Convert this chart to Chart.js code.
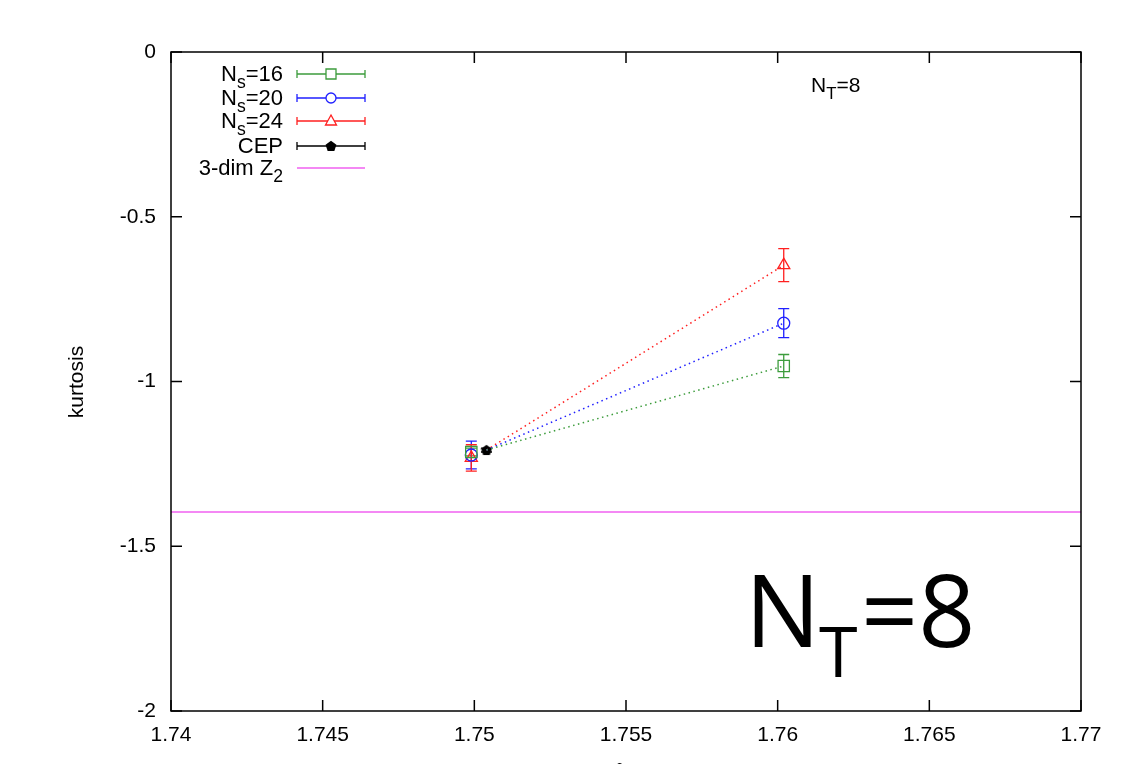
<!DOCTYPE html>
<html>
<head>
<meta charset="utf-8">
<script src="https://cdn.jsdelivr.net/npm/chart.js@4"></script>
<style>
  html, body { margin: 0; padding: 0; background: #fff; }
  #wrap { width: 1121px; height: 764px; }
</style>
</head>
<body>
<div id="wrap"><canvas id="mainCanvas" width="1121" height="764"></canvas></div>
<script>
// beta values of the two lattice points, and the CEP estimate
const betaPoints = [1.7499, 1.7602];
const ns16Kurt = [-1.214, -0.953];
const ns16Err = [0.012, 0.035];
const ns20Kurt = [-1.223, -0.823];
const ns20Err = [0.042, 0.044];
const ns24Kurt = [-1.232, -0.647];
const ns24Err = [0.040, 0.050];

const cepBeta = [1.7504];
const cepKurt = [-1.208];
const cepErr = [0.006];

// dotted fit lines from the CEP out to the 1.76 points
const fitBeta = [1.7504, 1.7602];
const fit16 = [-1.208, -0.953];
const fit20 = [-1.208, -0.823];
const fit24 = [-1.208, -0.647];

const z2Beta = [1.74, 1.77];
const z2Kurt = -1.396;

const xTicks = [1.74, 1.745, 1.75, 1.755, 1.76, 1.765, 1.77];
const yTicks = [0, -0.5, -1, -1.5, -2];

const GREEN = "#3c9c3c";
const BLUE = "#2020ff";
const RED = "#ff2020";
const MAGENTA = "#f060f0";
const FONT = "'Liberation Sans', Arial, sans-serif";

function toPoints(xs, ys) {
  return xs.map((x, i) => ({x, y: ys[i]}));
}

// gnuplot's filled pentagon for the CEP
function pentagon(size, color) {
  const c = document.createElement("canvas");
  c.width = size;
  c.height = size;
  const g = c.getContext("2d");
  const r = size / 2;
  g.beginPath();
  for (let i = 0; i < 5; i++) {
    const a = -Math.PI / 2 + i * 2 * Math.PI / 5;
    const px = r + r * 0.95 * Math.cos(a);
    const py = r + 0.5 + r * 0.95 * Math.sin(a);
    if (i == 0) g.moveTo(px, py); else g.lineTo(px, py);
  }
  g.closePath();
  g.fillStyle = color;
  g.fill();
  return c;
}
const pent = pentagon(12, "#000");

const datasets = [
  {label: "fit16", data: toPoints(fitBeta, fit16), showLine: true, borderColor: GREEN,
   borderWidth: 1.5, borderDash: [1.5, 3.5], pointRadius: 0},
  {label: "fit20", data: toPoints(fitBeta, fit20), showLine: true, borderColor: BLUE,
   borderWidth: 1.5, borderDash: [1.5, 3.5], pointRadius: 0},
  {label: "fit24", data: toPoints(fitBeta, fit24), showLine: true, borderColor: RED,
   borderWidth: 1.5, borderDash: [1.5, 3.5], pointRadius: 0},
  {label: "3-dim Z2", data: z2Beta.map(x => ({x, y: z2Kurt})), showLine: true,
   borderColor: MAGENTA, borderWidth: 1.5, pointRadius: 0},
  {label: "Ns=16", data: toPoints(betaPoints, ns16Kurt), yErr: ns16Err, showLine: false,
   pointStyle: "rect", pointRadius: 8, borderColor: GREEN, borderWidth: 1.3,
   backgroundColor: "rgba(0,0,0,0)"},
  {label: "Ns=20", data: toPoints(betaPoints, ns20Kurt), yErr: ns20Err, showLine: false,
   pointStyle: "circle", pointRadius: 6, borderColor: BLUE, borderWidth: 1.3,
   backgroundColor: "rgba(0,0,0,0)"},
  {label: "Ns=24", data: toPoints(betaPoints, ns24Kurt), yErr: ns24Err, showLine: false,
   pointStyle: "triangle", pointRadius: 7, borderColor: RED, borderWidth: 1.3,
   backgroundColor: "rgba(0,0,0,0)"},
  {label: "CEP", data: toPoints(cepBeta, cepKurt), yErr: cepErr, showLine: false,
   pointStyle: pent, pointRadius: 6, borderColor: "#000", backgroundColor: "#000"},
];

/**
 * Vertical error bars with caps, drawn under the markers
 */
const errorBars = {
  id: "errorBars",
  beforeDatasetsDraw(chart) {
    const {ctx, scales: {x, y}} = chart;
    ctx.save();
    chart.data.datasets.forEach(ds => {
      if (!ds.yErr) return;
      ctx.strokeStyle = ds.borderColor;
      ctx.lineWidth = 1.3;
      ds.data.forEach((p, i) => {
        const px = x.getPixelForValue(p.x);
        const top = y.getPixelForValue(p.y + ds.yErr[i]);
        const bot = y.getPixelForValue(p.y - ds.yErr[i]);
        ctx.beginPath();
        ctx.moveTo(px, top); ctx.lineTo(px, bot);
        ctx.moveTo(px - 5.5, top); ctx.lineTo(px + 5.5, top);
        ctx.moveTo(px - 5.5, bot); ctx.lineTo(px + 5.5, bot);
        ctx.stroke();
      });
    });
    ctx.restore();
  }
};

/**
 * Text with a subscript, e.g. N_s=16, right or left anchored
 */
function subText(ctx, x, y, parts, size, align) {
  const fonts = parts.map(([t, sub]) => `${sub ? size * 0.8 : size}px ${FONT}`);
  const widths = parts.map(([t], i) => { ctx.font = fonts[i]; return ctx.measureText(t).width; });
  let cx = align == "right" ? x - widths.reduce((a, b) => a + b, 0) : x;
  ctx.textAlign = "left";
  ctx.textBaseline = "alphabetic";
  parts.forEach(([t, sub], i) => {
    ctx.font = fonts[i];
    ctx.fillText(t, cx, y + (sub ? size * 0.32 : 0));
    cx += widths[i];
  });
}

/**
 * Frame, inward mirrored ticks, gnuplot-like key and labels
 */
const decorations = {
  id: "decorations",
  afterDraw(chart) {
    const {ctx, chartArea: a, scales: {x, y}} = chart;
    ctx.save();
    ctx.strokeStyle = "#000";
    ctx.lineWidth = 1.5;
    ctx.strokeRect(a.left, a.top, a.right - a.left, a.bottom - a.top);

    ctx.beginPath();
    xTicks.forEach(v => {
      const px = x.getPixelForValue(v);
      ctx.moveTo(px, a.bottom); ctx.lineTo(px, a.bottom - 11);
      ctx.moveTo(px, a.top); ctx.lineTo(px, a.top + 11);
    });
    yTicks.forEach(v => {
      const py = y.getPixelForValue(v);
      ctx.moveTo(a.left, py); ctx.lineTo(a.left + 11, py);
      ctx.moveTo(a.right, py); ctx.lineTo(a.right - 11, py);
    });
    ctx.stroke();

    // key
    ctx.fillStyle = "#000";
    const rows = [
      {parts: [["N"], ["s", true], ["=16"]], color: GREEN, mark: "rect", y: 74},
      {parts: [["N"], ["s", true], ["=20"]], color: BLUE, mark: "circle", y: 98},
      {parts: [["N"], ["s", true], ["=24"]], color: RED, mark: "triangle", y: 121},
      {parts: [["CEP"]], color: "#000", mark: "pent", y: 146},
      {parts: [["3-dim Z"], ["2", true]], color: MAGENTA, mark: "none", y: 168},
    ];
    rows.forEach(r => {
      ctx.fillStyle = "#000";
      subText(ctx, 283, r.y + 7, r.parts, 22, "right");
      ctx.strokeStyle = r.color;
      ctx.lineWidth = 1.3;
      ctx.beginPath();
      ctx.moveTo(297, r.y); ctx.lineTo(365, r.y);
      if (r.mark != "none") {
        ctx.moveTo(297, r.y - 4); ctx.lineTo(297, r.y + 4);
        ctx.moveTo(365, r.y - 4); ctx.lineTo(365, r.y + 4);
      }
      ctx.stroke();
      const mx = 331;
      ctx.beginPath();
      ctx.fillStyle = "#fff";
      if (r.mark == "rect") {
        ctx.rect(mx - 5, r.y - 5, 10, 10);
        ctx.fill(); ctx.stroke();
      } else if (r.mark == "circle") {
        ctx.arc(mx, r.y, 5, 0, 2 * Math.PI);
        ctx.fill(); ctx.stroke();
      } else if (r.mark == "triangle") {
        ctx.moveTo(mx, r.y - 6); ctx.lineTo(mx + 5.5, r.y + 4); ctx.lineTo(mx - 5.5, r.y + 4);
        ctx.closePath();
        ctx.fill(); ctx.stroke();
      } else if (r.mark == "pent") {
        ctx.drawImage(pent, mx - 6, r.y - 6);
      }
    });

    // small label, top right
    ctx.fillStyle = "#000";
    subText(ctx, 811, 92, [["N"], ["T", true], ["=8"]], 21, "left");

    // large label, bottom right
    ctx.font = "100px 'Open Sans', sans-serif";
    ctx.textAlign = "left";
    ctx.textBaseline = "alphabetic";
    ctx.fillText("N", 745, 647);
    ctx.font = "70px 'Open Sans', sans-serif";
    ctx.fillText("T", 819, 677);
    ctx.font = "100px 'Open Sans', sans-serif";
    ctx.fillText("=8", 861, 647);

    // y axis title
    ctx.font = `21px ${FONT}`;
    ctx.translate(77, 382);
    ctx.rotate(-Math.PI / 2);
    ctx.textAlign = "center";
    ctx.textBaseline = "middle";
    ctx.fillText("kurtosis", 0, 0);
    ctx.restore();

    // x axis title falls below the window, only its superscript shows
    ctx.save();
    ctx.font = `13px ${FONT}`;
    ctx.fillStyle = "#000";
    ctx.textAlign = "left";
    ctx.fillText("2", 616, 772);
    ctx.restore();
  }
};

const chart = new Chart(document.getElementById("mainCanvas").getContext("2d"), {
  type: "scatter",
  data: {datasets},
  plugins: [errorBars, decorations],
  options: {
    responsive: false,
    animation: false,
    layout: {padding: {top: 52, right: 40, left: 0, bottom: 0}},
    plugins: {legend: {display: false}, tooltip: {enabled: false}},
    scales: {
      x: {
        type: "linear",
        min: 1.74,
        max: 1.77,
        afterBuildTicks(scale) { scale.ticks = xTicks.map(value => ({value})); },
        afterFit(scale) { scale.height = 53; },
        grid: {display: false, drawTicks: false},
        border: {display: false},
        ticks: {
          padding: 12,
          color: "#000",
          font: {family: FONT, size: 21},
          callback: v => String(Number(v.toFixed(3))),
        },
      },
      y: {
        type: "linear",
        min: -2,
        max: 0,
        afterBuildTicks(scale) { scale.ticks = yTicks.map(value => ({value})); },
        afterFit(scale) { scale.width = 171; },
        grid: {display: false, drawTicks: false},
        border: {display: false},
        ticks: {
          padding: 15,
          color: "#000",
          font: {family: FONT, size: 21},
          callback: v => String(Number(v.toFixed(2))),
        },
      },
    },
  },
});
</script>
</body>
</html>
